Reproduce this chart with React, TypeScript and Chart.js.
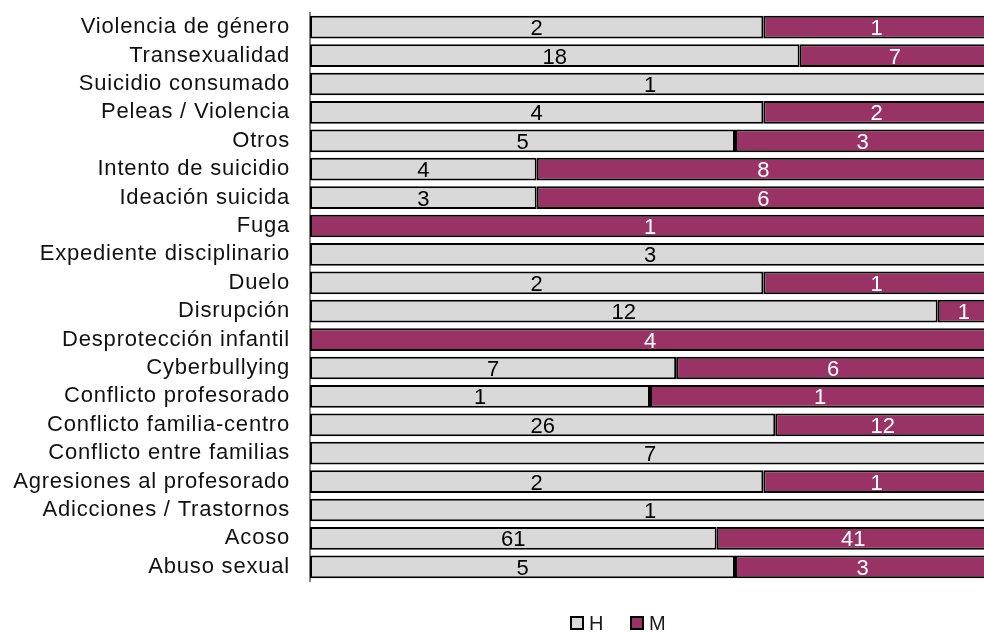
import React, { useEffect, useRef } from "react";
import { Chart, registerables } from "chart.js";

Chart.register(...registerables);

const categories = [
  "Violencia de género",
  "Transexualidad",
  "Suicidio consumado",
  "Peleas / Violencia",
  "Otros",
  "Intento de suicidio",
  "Ideación suicida",
  "Fuga",
  "Expediente disciplinario",
  "Duelo",
  "Disrupción",
  "Desprotección infantil",
  "Cyberbullying",
  "Conflicto profesorado",
  "Conflicto familia-centro",
  "Conflicto entre familias",
  "Agresiones al profesorado",
  "Adicciones / Trastornos",
  "Acoso",
  "Abuso sexual",
];

const hValues = [2, 18, 1, 4, 5, 4, 3, 0, 3, 2, 12, 0, 7, 1, 26, 7, 2, 1, 61, 5];
const mValues = [1, 7, 0, 2, 3, 8, 6, 1, 0, 1, 1, 4, 6, 1, 12, 0, 1, 0, 41, 3];

const seriesNames = ["H", "M"];
const GRAY = "#d9d9d9";
const MAGENTA = "#993366";
const FONT = "'Liberation Sans', Arial, sans-serif";

export default function App() {
  const ref = useRef<HTMLCanvasElement | null>(null);

  useEffect(() => {
    const canvas = ref.current;
    if (!canvas) return;
    const totals = categories.map((_, i) => hValues[i] + mValues[i]);
    const hPct = hValues.map((v, i) => (totals[i] ? (v / totals[i]) * 100 : 0));
    const mPct = mValues.map((v, i) => (totals[i] ? (v / totals[i]) * 100 : 0));
    const counts = [hValues, mValues];
    const labelColors = ["#000000", "#ffffff"];

    const spacingPlugin = {
      id: "letterSpacing",
      beforeDraw(chart: any) {
        (chart.ctx as any).letterSpacing = "0.8px";
      },
    };

    const labelPlugin = {
      id: "segLabels",
      afterDatasetsDraw(chart: any) {
        const ctx = chart.ctx;
        ctx.save();
        (ctx as any).letterSpacing = "0px";
        ctx.font = `22px ${FONT}`;
        ctx.textAlign = "center";
        ctx.textBaseline = "middle";
        chart.data.datasets.forEach((ds: any, di: number) => {
          const meta = chart.getDatasetMeta(di);
          meta.data.forEach((bar: any, i: number) => {
            const c = counts[di][i];
            if (!c) return;
            const { x, base, y } = bar.getProps(["x", "base", "y"], true);
            const cx = (Math.min(x, chart.chartArea.right) + base) / 2;
            ctx.fillStyle = labelColors[di];
            ctx.fillText(String(c), cx, y + 2);
          });
        });
        ctx.restore();
      },
    };

    const legendPlugin = {
      id: "customLegend",
      afterDraw(chart: any) {
        const ctx = chart.ctx;
        ctx.save();
        (ctx as any).letterSpacing = "0px";
        const colors = [GRAY, MAGENTA];
        const xs = [571, 631];
        ctx.font = `20px ${FONT}`;
        ctx.textBaseline = "middle";
        ctx.textAlign = "left";
        seriesNames.forEach((name, i) => {
          ctx.fillStyle = colors[i];
          ctx.fillRect(xs[i], 617, 12, 12);
          ctx.strokeStyle = "#000";
          ctx.lineWidth = 2;
          ctx.strokeRect(xs[i], 617, 12, 12);
          ctx.fillStyle = "#1a1a1a";
          ctx.fillText(name, xs[i] + 18, 624);
        });
        ctx.restore();
      },
    };

    const chart = new Chart(canvas, {
      type: "bar",
      data: {
        labels: categories,
        datasets: [
          {
            label: seriesNames[0],
            data: hPct,
            backgroundColor: GRAY,
            borderColor: "#000",
            borderWidth: 2,
            borderSkipped: false,
            barPercentage: 0.8,
            categoryPercentage: 1,
          },
          {
            label: seriesNames[1],
            data: mPct,
            backgroundColor: MAGENTA,
            borderColor: "#000",
            borderWidth: 2,
            borderSkipped: false,
            barPercentage: 0.8,
            categoryPercentage: 1,
          },
        ],
      },
      options: {
        indexAxis: "y",
        responsive: false,
        animation: false,
        devicePixelRatio: 1,
        layout: { padding: { top: 13, bottom: 52, left: 0, right: 0 } },
        plugins: {
          legend: { display: false },
          tooltip: { enabled: false },
        },
        scales: {
          x: {
            stacked: true,
            min: 0,
            max: 100,
            display: false,
          },
          y: {
            stacked: true,
            grid: { display: false, drawTicks: false },
            border: { display: true, color: "#808080", width: 2 },
            ticks: {
              color: "#111111",
              padding: 20,
              font: { family: FONT, size: 22 },
              autoSkip: false,
            },
            afterFit(scale: any) {
              scale.width = 310;
              scale.paddingTop = 0;
              scale.paddingBottom = 0;
            },
          },
        },
      },
      plugins: [spacingPlugin, labelPlugin, legendPlugin],
    });
    return () => chart.destroy();
  }, []);

  return (
    <div
      style={{
        position: "absolute",
        left: 0,
        top: 0,
        width: 984,
        height: 633,
        overflow: "hidden",
        background: "#fff",
      }}
    >
      <canvas ref={ref} width={990} height={633} style={{ width: 990, height: 633, display: "block" }} />
    </div>
  );
}
